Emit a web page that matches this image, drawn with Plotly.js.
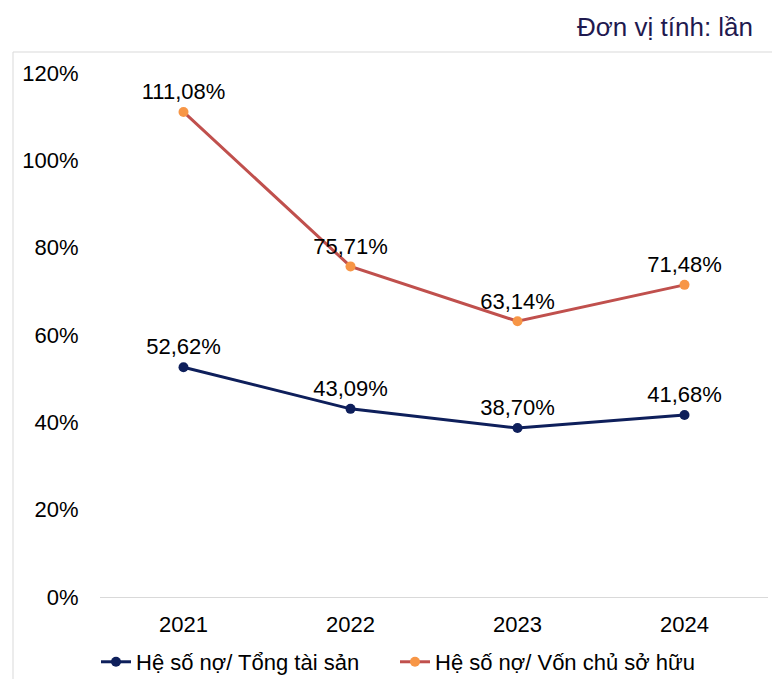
<!DOCTYPE html>
<html>
<head>
<meta charset="utf-8">
<script src="https://cdn.plot.ly/plotly-3.0.1.min.js"></script>
<style>html,body{margin:0;padding:0;background:#fff;}#chart{width:772px;height:679px;}</style>
</head>
<body>
<div id="chart"></div>
<script>
const years = ["2021", "2022", "2023", "2024"];
const debtToAssets = [52.62, 43.09, 38.70, 41.68];
const debtToEquity = [111.08, 75.71, 63.14, 71.48];
const yTickVals = [0, 20, 40, 60, 80, 100, 120];
const yTickText = ["0%", "20%", "40%", "60%", "80%", "100%", "120%"];
const seriesNames = ["Hệ số nợ/ Tổng tài sản", "Hệ số nợ/ Vốn chủ sở hữu"];
const unitText = "Đơn vị tính: lần";

const fmt = v => v.toFixed(2).replace(".", ",") + "%";
const FONT = "Liberation Sans, Arial, sans-serif";
const FS = 22;

const traces = [
  {
    x: years, y: debtToAssets, name: seriesNames[0], type: "scatter", mode: "lines+markers+text",
    line: {color: "#0e1f5b", width: 3},
    marker: {color: "#0e1f5b", size: 10},
    text: debtToAssets.map(fmt), textposition: "top center",
    textfont: {family: FONT, size: FS, color: "#000"},
    cliponaxis: false, legend: "legend"
  },
  {
    x: years, y: debtToEquity, name: seriesNames[1], type: "scatter", mode: "lines+markers+text",
    line: {color: "#c0504d", width: 3},
    marker: {color: "#f79646", size: 10},
    text: debtToEquity.map(fmt), textposition: "top center",
    textfont: {family: FONT, size: FS, color: "#000"},
    cliponaxis: false, legend: "legend2"
  }
];

const legendBase = {orientation: "h", xanchor: "left", y: -0.124, yanchor: "middle",
  font: {family: FONT, size: FS, color: "#000"}, itemwidth: 30, bgcolor: "rgba(0,0,0,0)"};

const layout = {
  width: 772, height: 679,
  margin: {l: 100, r: 4, t: 73, b: 82, autoexpand: false},
  paper_bgcolor: "#fff", plot_bgcolor: "#fff",
  font: {family: FONT, size: FS, color: "#000"},
  showlegend: true,
  legend: Object.assign({}, legendBase, {x: -0.006}),
  legend2: Object.assign({}, legendBase, {x: 0.4416}),
  xaxis: {
    type: "category", range: [-0.5, 3.5], showgrid: false, zeroline: false,
    showline: true, linecolor: "#d9d9d9", linewidth: 1,
    ticks: "outside", ticklen: 8, tickcolor: "rgba(0,0,0,0)",
    tickfont: {family: FONT, size: FS, color: "#000"}
  },
  yaxis: {
    range: [0, 120], tickvals: yTickVals, ticktext: yTickText,
    showgrid: false, zeroline: false, showline: false,
    ticks: "outside", ticklen: 16, tickcolor: "rgba(0,0,0,0)",
    tickfont: {family: FONT, size: FS, color: "#000"}
  },
  shapes: [
    {type: "line", xref: "paper", yref: "paper", x0: (13-100)/668, x1: 1.1, y0: (597-52)/524, y1: (597-52)/524,
     line: {color: "#d9d9d9", width: 1}},
    {type: "line", xref: "paper", yref: "paper", x0: (13-100)/668, x1: (13-100)/668, y0: (597-52)/524, y1: -0.3,
     line: {color: "#d9d9d9", width: 1}}
  ],
  annotations: [
    {text: unitText, xref: "paper", yref: "paper", x: (755-100)/668, y: (597-27)/524,
     xanchor: "right", yanchor: "middle", showarrow: false,
     font: {family: FONT, size: 26, color: "#1f1a4f"}}
  ]
};

Plotly.newPlot("chart", traces, layout, {displayModeBar: false, staticPlot: true});
</script>
</body>
</html>
